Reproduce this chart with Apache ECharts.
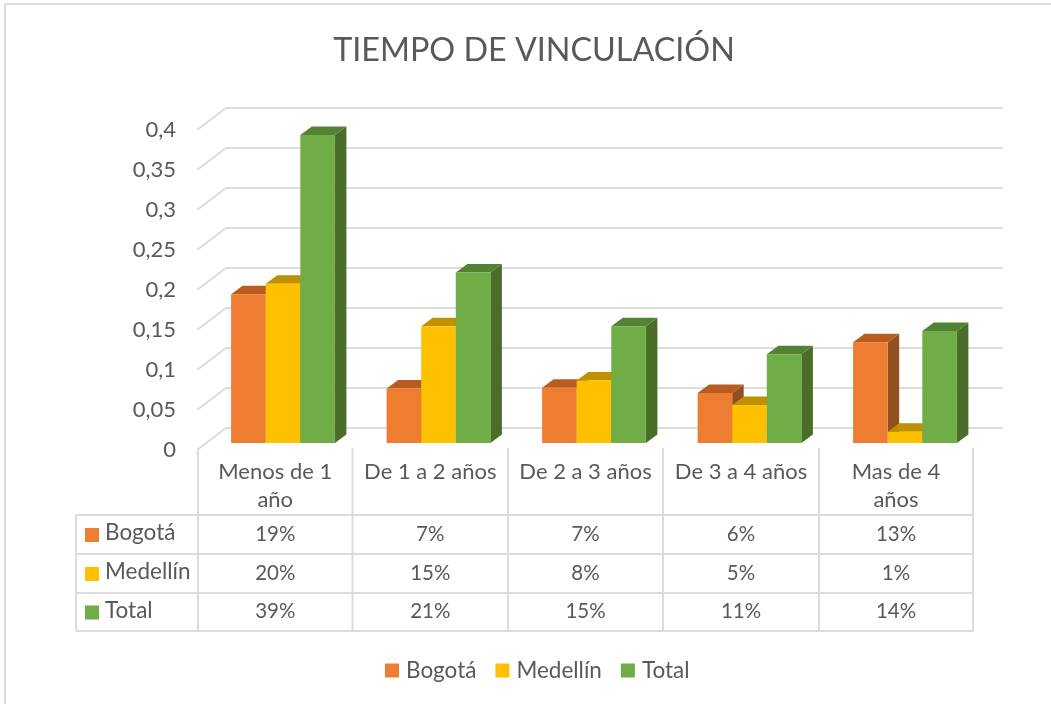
<!DOCTYPE html>
<html>
<head>
<meta charset="utf-8">
<style>html,body{margin:0;padding:0;background:#fff}#c{width:1051px;height:704px}</style>
<script src="https://cdn.jsdelivr.net/npm/echarts@6/dist/echarts.min.js"></script>
</head>
<body>
<div id="c"></div>
<script>
var titleText = 'TIEMPO DE VINCULACIÓN';
var categories = ['Menos de 1\naño', 'De 1 a 2 años', 'De 2 a 3 años', 'De 3 a 4 años', 'Mas de 4\naños'];
var bogota = [0.186, 0.068, 0.069, 0.0625, 0.126];
var medellin = [0.199, 0.146, 0.078, 0.0475, 0.014];
var total = [0.385, 0.213, 0.146, 0.111, 0.14];
var seriesNames = ['Bogotá', 'Medellín', 'Total'];
var axisTicks = [0, 0.05, 0.1, 0.15, 0.2, 0.25, 0.3, 0.35, 0.4];

var FONT = 'Lato';
var TEXT = '#595959';
var LINE = '#DCDCDC';
var front = ['#ED7D31', '#FFC000', '#70AD47'];
var tops = ['#B85C20', '#BF9000', '#548235'];
var sides = ['#91501E', '#9C7600', '#4A6E2A'];
var values = [bogota, medellin, total];

function barSeries(k) {
  return {
    name: seriesNames[k], type: 'custom', xAxisIndex: 2, yAxisIndex: 2, z: 3 + k, silent: true,
    itemStyle: { color: front[k] },
    encode: { x: 0, y: 1 },
    data: values[k].map(function (v, i) { return [i, v]; }),
    renderItem: function (params, api) {
      var p = api.coord([api.value(0), api.value(1)]);
      var base = api.coord([api.value(0), 0])[1];
      var w = api.size([1, 0])[0] * 0.2225, dx = 11.5, dy = 8.5;
      var x0 = p[0] + (k - 1.5) * w, x1 = x0 + w, y = p[1];
      return { type: 'group', children: [
        { type: 'polygon', shape: { points: [[x1, y], [x1 + dx, y - dy], [x1 + dx, base - dy], [x1, base]] }, style: { fill: sides[k] } },
        { type: 'polygon', shape: { points: [[x0, y], [x0 + dx, y - dy], [x1 + dx, y - dy], [x1, y]] }, style: { fill: tops[k] } },
        { type: 'rect', shape: { x: x0, y: y, width: w, height: base - y }, style: { fill: front[k] } }
      ] };
    }
  };
}

/* data table, built from the same arrays */
var colX = [198, 352.5, 508, 663, 819, 973];
var rowY = [515, 554, 593, 631];
var tableTop = 448, tableLeft = 76;
var elements = [];
function line(x1, y1, x2, y2) {
  elements.push({ type: 'line', silent: true, shape: { x1: x1, y1: y1, x2: x2, y2: y2 }, style: { stroke: LINE, lineWidth: 2 } });
}
function label(txt, x, y, align, size) {
  elements.push({ type: 'text', silent: true, x: x, y: y, style: { text: txt, fill: TEXT, font: size + 'px ' + FONT, align: align, verticalAlign: 'middle', lineHeight: 28 } });
}
rowY.forEach(function (y) { line(tableLeft, y, colX[5], y); });
colX.forEach(function (x) { line(x, tableTop, x, rowY[3]); });
line(tableLeft, rowY[0], tableLeft, rowY[3]);
categories.forEach(function (c, i) {
  var cx = (colX[i] + colX[i + 1]) / 2;
  c.split('\n').forEach(function (t, j) { label(t, cx, 472 + j * 28, 'center', 22); });
  values.forEach(function (arr, k) {
    label(Math.round(arr[i] * 100) + '%', cx, (rowY[k] + rowY[k + 1]) / 2 - 0.5, 'center', 20.5);
  });
});
seriesNames.forEach(function (n, k) {
  var cy = (rowY[k] + rowY[k + 1]) / 2;
  elements.push({ type: 'rect', silent: true, shape: { x: 85, y: cy - 6.5, width: 14, height: 14 }, style: { fill: front[k] } });
  label(n, 105, cy - 2 + (k === 2 ? 1 : 0), 'left', 22.5);
});
/* chart frame: top and left edges only */
elements.push({ type: 'line', silent: true, shape: { x1: 5, y1: 4, x2: 1051, y2: 4 }, style: { stroke: LINE, lineWidth: 2 } });
elements.push({ type: 'line', silent: true, shape: { x1: 5, y1: 4, x2: 5, y2: 704 }, style: { stroke: LINE, lineWidth: 2 } });

var option = {
  animation: false,
  backgroundColor: '#fff',
  textStyle: { fontFamily: FONT },
  title: { text: titleText, left: 529, top: 30, textAlign: 'center',
    textStyle: { color: TEXT, fontFamily: FONT, fontSize: 32.3, fontWeight: 'normal' } },
  legend: { data: seriesNames, left: 385, top: 659, itemWidth: 14, itemHeight: 14, itemGap: 19, padding: 0,
    icon: 'rect', selectedMode: false,
    textStyle: { color: TEXT, fontFamily: FONT, fontSize: 22.5, padding: [0, 0, 0, 2] } },
  grid: [
    { left: 197, top: 130, width: 29, height: 320 },
    { left: 226, top: 108, width: 777, height: 320 },
    { left: 205.25, top: 123, width: 777.5, height: 320 }
  ],
  xAxis: [
    { gridIndex: 0, type: 'value', min: 0, max: 1, show: false },
    { gridIndex: 1, type: 'value', min: 0, max: 1, show: false },
    { gridIndex: 2, type: 'category', data: categories, show: false }
  ],
  yAxis: [
    { gridIndex: 0, type: 'value', min: 0, max: 0.4, interval: 0.05,
      axisLine: { show: false }, axisTick: { show: false }, splitLine: { show: false },
      axisLabel: { margin: 21, color: TEXT, fontFamily: FONT, fontSize: 22,
        formatter: function (v) { return String(+v.toFixed(2)).replace('.', ','); } } },
    { gridIndex: 1, type: 'value', min: 0, max: 0.4, interval: 0.05,
      axisLine: { show: false }, axisTick: { show: false }, axisLabel: { show: false },
      splitLine: { show: true, lineStyle: { color: LINE, width: 2 } } },
    { gridIndex: 2, type: 'value', min: 0, max: 0.4, show: false, splitLine: { show: false } }
  ],
  series: [
    { name: 'side wall', type: 'custom', xAxisIndex: 0, yAxisIndex: 0, z: 1, silent: true,
      encode: { y: 0 }, data: axisTicks.map(function (t) { return [t]; }),
      renderItem: function (params, api) {
        var a = api.coord([0, api.value(0)]);
        return { type: 'line', shape: { x1: a[0], y1: a[1], x2: a[0] + 29, y2: a[1] - 22 }, style: { stroke: LINE, lineWidth: 2 } };
      } },
    barSeries(0), barSeries(1), barSeries(2)
  ],
  graphic: { elements: elements }
};
echarts.init(document.getElementById('c')).setOption(option);
</script>
</body>
</html>
